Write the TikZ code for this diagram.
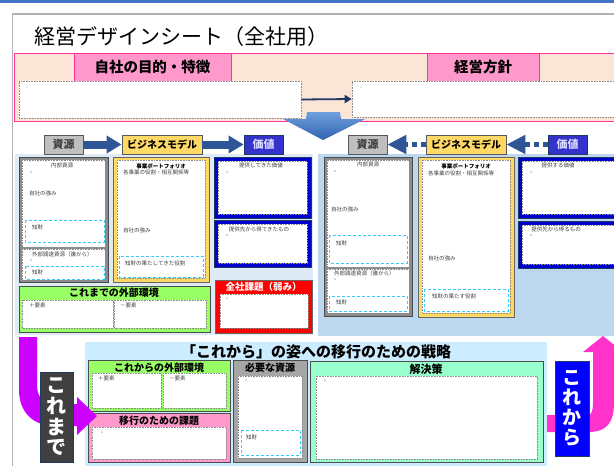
\documentclass[tikz,border=0pt]{standalone}
\usepackage{fontspec}
\setmainfont{Noto Sans CJK JP}
\usepackage{xcolor}
\usepackage{tikz}
\usetikzlibrary{arrows.meta,positioning,calc}

\definecolor{cTop}{HTML}{4472C4}
\definecolor{cPinkLine}{HTML}{FF3399}
\definecolor{cPeach}{HTML}{FBE5D6}
\definecolor{cPink}{HTML}{FF99CC}
\definecolor{cNavy}{HTML}{1F3864}
\definecolor{cArrow}{HTML}{2F5597}
\definecolor{cBlueTop}{HTML}{6FA0DC}
\definecolor{cBlueBot}{HTML}{2F62B0}
\definecolor{cBgL}{HTML}{DEEBF7}
\definecolor{cBgR}{HTML}{BDD7EE}
\definecolor{cGrayTag}{HTML}{BFBFBF}
\definecolor{cGrayBox}{HTML}{A6A6A6}
\definecolor{cYellow}{HTML}{FFD966}
\definecolor{cValTag}{HTML}{3333CC}
\definecolor{cValTxt}{HTML}{D9D9FF}
\definecolor{cBlue}{HTML}{0000CC}
\definecolor{cRed}{HTML}{FF0000}
\definecolor{cGreen}{HTML}{99FF66}
\definecolor{cSky}{HTML}{CCECFF}
\definecolor{cMint}{HTML}{99FFCC}
\definecolor{cCyan}{HTML}{33CCFF}
\definecolor{cPurp}{HTML}{CC00FF}
\definecolor{cMag}{HTML}{FF33CC}
\definecolor{cDark}{HTML}{404040}
\definecolor{cTxt}{HTML}{404040}

\newcommand{\fsz}[1]{\fontsize{#1}{#1}\selectfont}

\begin{document}
\begin{tikzpicture}[x=1pt, y=-1pt,
  panel/.style={draw=black!45, densely dotted, fill=white, line width=0.6pt},
  kbox/.style={densely dashed, draw=cCyan, line width=0.8pt},
  small/.style={font=\fsz{5.5}, text=cTxt, inner sep=0, anchor=west},
  smallc/.style={font=\fsz{5.5}, text=cTxt, inner sep=0},
  dot/.style={font=\fsz{5}, text=cTxt, inner sep=0},
  tag/.style={inner sep=0, line width=0.8pt, font=\fsz{#1}\bfseries},
  head/.style={inner sep=0, font=\fsz{#1}\bfseries},
  bigarr/.style={line width=8pt, cArrow, -{Triangle[length=15pt,width=17pt]}},
  dotarr/.style={line width=5pt, cArrow, dash pattern=on 5pt off 4pt, -{Triangle[length=19pt,width=18pt]}},
  navyarr/.style={line width=1.8pt, cNavy, -{Triangle[length=7pt,width=8pt]}}
]
\useasboundingbox (0,0) rectangle (614,466);

% page frame
\fill[cTop] (0,0) rectangle (614,3);
\draw[black!30, line width=1.5pt] (12.5,470) -- (12.5,14) -- (620,14);

% title
\node[anchor=west, inner sep=0, font=\fsz{21}] (title) at (34,37) {経営デザインシート（全社用）};

% purpose / policy band
\draw[draw=cPinkLine, fill=cPeach, line width=1pt] (14,53.5) rectangle (620,121);
\node[tag=14.5, draw=cPinkLine, fill=cPink, minimum width=157pt, minimum height=28pt] (purpL) at (152.5,67.5) {自社の目的・特徴};
\node[tag=14.5, draw=cPinkLine, fill=cPink, minimum width=112pt, minimum height=28pt] (policyL) at (483,67.5) {経営方針};
\node[panel, minimum width=282pt, minimum height=37pt, inner sep=0] (purp) at (160,99.5) {};
\node[panel, minimum width=268pt, minimum height=36pt, inner sep=0] (policy) at (486,99) {};
\node[dot, text=cCyan] (purpDot) at (27,88) {・};
\node[dot, text=cCyan] (policyDot) at (361,88) {・};
\draw[navyarr] (purp.east) -- (policy.west);

% big arrow down
\shade[top color=cBlueTop, bottom color=cBlueBot] (307,112) -- (340,112) -- (341,119) -- (365,119) -- (323,140) -- (283,119) -- (306,119) -- cycle;

% backgrounds
\fill[cBgL] (15,154) rectangle (313,335);
\fill[cBgR] (318,154) rectangle (620,336);

% heading row, left
\node[tag=11, draw=black!65, fill=cGrayTag, text=cTxt, minimum width=39pt, minimum height=19pt] (resL) at (63.5,144.5) {資源};
\node[tag=10, draw=black!65, fill=cYellow, minimum width=80pt, minimum height=19pt] (bmL) at (162,144.5) {ビジネスモデル};
\node[tag=11, draw=cNavy, fill=cValTag, text=cValTxt, minimum width=39pt, minimum height=19pt] (valL) at (263.5,144.5) {価値};
\draw[bigarr] (resL) -- (bmL);
\draw[bigarr] (bmL) -- (valL);

% heading row, right
\node[tag=11, draw=black!65, fill=cGrayTag, text=cTxt, minimum width=39pt, minimum height=19pt] (resR) at (367.5,144.5) {資源};
\node[tag=10, draw=black!65, fill=cYellow, minimum width=80pt, minimum height=19pt] (bmR) at (466,144.5) {ビジネスモデル};
\node[tag=11, draw=cNavy, fill=cValTag, text=cValTxt, minimum width=39pt, minimum height=19pt] (valR) at (567.5,144.5) {価値};
\draw[dotarr] (bmR) -- (resR);
\draw[dotarr] (valR) -- (bmR);

% resources, left
\draw[draw=black!70, fill=black!45, line width=1pt] (19,157) rectangle (108,282);
\draw[panel] (22,160) rectangle (105,247);
\draw[panel] (22,249) rectangle (105,280);
\draw[kbox] (25,220) rectangle (104,242);
\draw[kbox] (25,266) rectangle (104,279);
\node[smallc] (inL) at (62,165) {内部資源};
\node[dot] (inLDot) at (31,173) {・};
\node[small] (strL) at (29,193) {自社の強み};
\node[small] (ipL1) at (32,227) {知財};
\node[small] (exL) at (32,254) {外部調達資源（誰から）};
\node[dot] (exLDot) at (31,261) {・};
\node[small] (ipL2) at (32,272) {知財};

% business model, left
\draw[draw=black!60, fill=cYellow, line width=1pt] (113,157) rectangle (209,282);
\draw[panel] (117,160) rectangle (205,278);
\draw[kbox] (119,256) rectangle (203,277);
\node[smallc, font=\fsz{5.5}\bfseries, text=black] (pfL) at (161,166) {事業ポートフォリオ};
\node[small] (roleL) at (123,172) {各事業の役割・相互関係等};
\node[small] (str2L) at (123,230) {自社の強み};
\node[small] (ipRoleL) at (125,263) {知財の果たしてきた役割};

% value, left
\draw[draw=cNavy, fill=cBlue, line width=0.8pt] (214,157) rectangle (311,218);
\draw[panel] (218,161) rectangle (307,214);
\draw[draw=cNavy, fill=cBlue, line width=0.8pt] (214,220) rectangle (311,267);
\draw[panel] (218,224) rectangle (307,263);
\node[smallc] (giveL) at (261,165) {提供してきた価値};
\node[dot] (giveLDot) at (227,173) {・};
\node[smallc] (getL) at (259,229) {提供先から得てきたもの};
\node[dot] (getLDot) at (227,236) {・};

% weakness
\draw[draw=black!60, fill=cRed, line width=0.8pt] (215,280) rectangle (312,333);
\node[head=9.5, text=white] (weak) at (263.5,287) {全社課題（弱み）};
\draw[panel] (220,294) rectangle (308,328);
\node[dot] (weakDot) at (227,299) {・};

% outside, until now
\draw[draw=black!70, fill=cGreen, line width=0.8pt] (19,286) rectangle (210,332);
\node[head=10] (envL) at (114,293) {これまでの外部環境};
\draw[panel] (22,300) rectangle (113,328);
\draw[panel] (114,300) rectangle (206,328);
\node[small] (plusL) at (29,305) {＋要素};
\node[small] (minusL) at (120,305) {－要素};

% resources, right
\draw[draw=black!70, fill=black!45, line width=1pt] (324,157) rectangle (412,316);
\draw[panel] (327,160) rectangle (409,267);
\draw[panel] (327,269) rectangle (409,313);
\draw[kbox] (329,235) rectangle (407,263);
\draw[kbox] (329,296) rectangle (407,311);
\node[smallc] (inR) at (368,164) {内部資源};
\node[dot] (inRDot) at (335,172) {・};
\node[small] (strR) at (331,209) {自社の強み};
\node[small] (ipR1) at (336,243) {知財};
\node[small] (exR) at (334,273) {外部調達資源（誰から）};
\node[dot] (exRDot) at (335,280) {・};
\node[small] (ipR2) at (336,302) {知財};

% business model, right
\draw[draw=black!60, fill=cYellow, line width=1pt] (418,157) rectangle (514,317);
\draw[panel] (422,160) rectangle (510,313);
\draw[kbox] (424,289) rectangle (508,311);
\node[smallc, font=\fsz{5.5}\bfseries, text=black] (pfR) at (466,166) {事業ポートフォリオ};
\node[small] (roleR) at (428,173) {各事業の役割・相互関係等};
\node[small] (str2R) at (428,258) {自社の強み};
\node[small] (ipRoleR) at (432,296) {知財の果たす役割};

% value, right
\draw[draw=cNavy, fill=cBlue, line width=0.8pt] (518,157) rectangle (620,218);
\draw[panel] (522,161) rectangle (617,214);
\draw[draw=cNavy, fill=cBlue, line width=0.8pt] (518,221) rectangle (620,268);
\draw[panel] (522,225) rectangle (617,264);
\node[smallc] (giveR) at (558,165) {提供する価値};
\node[dot] (giveRDot) at (531,173) {・};
\node[smallc] (getR) at (556,229) {提供先から得るもの};
\node[dot] (getRDot) at (531,236) {・};

% strategy for the transition
\fill[cSky] (85,342) rectangle (547,470);
\node[head=15] (strat) at (316,352) {「これから」の姿への移行のための戦略};

\draw[draw=black!70, fill=cGreen, line width=0.8pt] (88,360) rectangle (230,411);
\node[head=10] (envR) at (159,368) {これからの外部環境};
\draw[panel] (92,373) rectangle (161,408);
\draw[panel] (163,373) rectangle (226,408);
\node[small] (plusR) at (98,378) {＋要素};
\node[small] (minusR) at (169,378) {－要素};

\draw[draw=black!70, fill=cPink, line width=0.8pt] (88,413) rectangle (230,462);
\node[head=10] (issue) at (159,421) {移行のための課題};
\draw[panel] (92,427) rectangle (226,459);
\node[dot] (issueDot) at (102,433) {・};

\draw[draw=black!70, fill=cGrayBox, line width=0.8pt] (233,360) rectangle (307,462);
\node[head=10] (need) at (270,368) {必要な資源};
\draw[panel] (238,376) rectangle (302,458);
\node[dot] (needDot) at (246,381) {・};
\draw[kbox] (241,430) rectangle (300,455);
\node[small] (ipNeed) at (246,437) {知財};

\draw[draw=black!70, fill=cMint, line width=0.8pt] (310,361) rectangle (543,462);
\node[head=11] (sol) at (426,369) {解決策};
\draw[panel] (316,376) rectangle (537,459);
\node[dot] (solDot) at (325,381) {・};

% until now / from now on
\fill[cPurp] (19,337) -- (37,337) -- (37,385) .. controls (37,398) and (44,404) .. (57,404) -- (77,404) -- (77,397) -- (97,416) -- (77,435) -- (77,426) -- (55,426) .. controls (33,426) and (19,412) .. (19,390) -- cycle;
\fill[cMag] (547,415) -- (588,415) .. controls (592,415) and (593,410) .. (593,402) -- (593,352) -- (583,352) -- (603,336) -- (623,352) -- (614,352) -- (614,402) .. controls (614,424) and (606,432) .. (588,432) -- (547,432) -- cycle;

\node[draw=cNavy, fill=cDark, line width=1pt, minimum width=33pt, minimum height=90pt, inner sep=0, text=white, align=center, font=\fontsize{20}{20.7}\selectfont\bfseries] (made) at (56.5,417) {こ\\れ\\ま\\で};
\node[draw=cNavy, fill=blue, line width=1pt, minimum width=34pt, minimum height=95pt, inner sep=0, text=white, align=center, font=\fontsize{19}{20}\selectfont\bfseries] (kara) at (572,408.5) {こ\\れ\\か\\ら};

\end{tikzpicture}
\end{document}
